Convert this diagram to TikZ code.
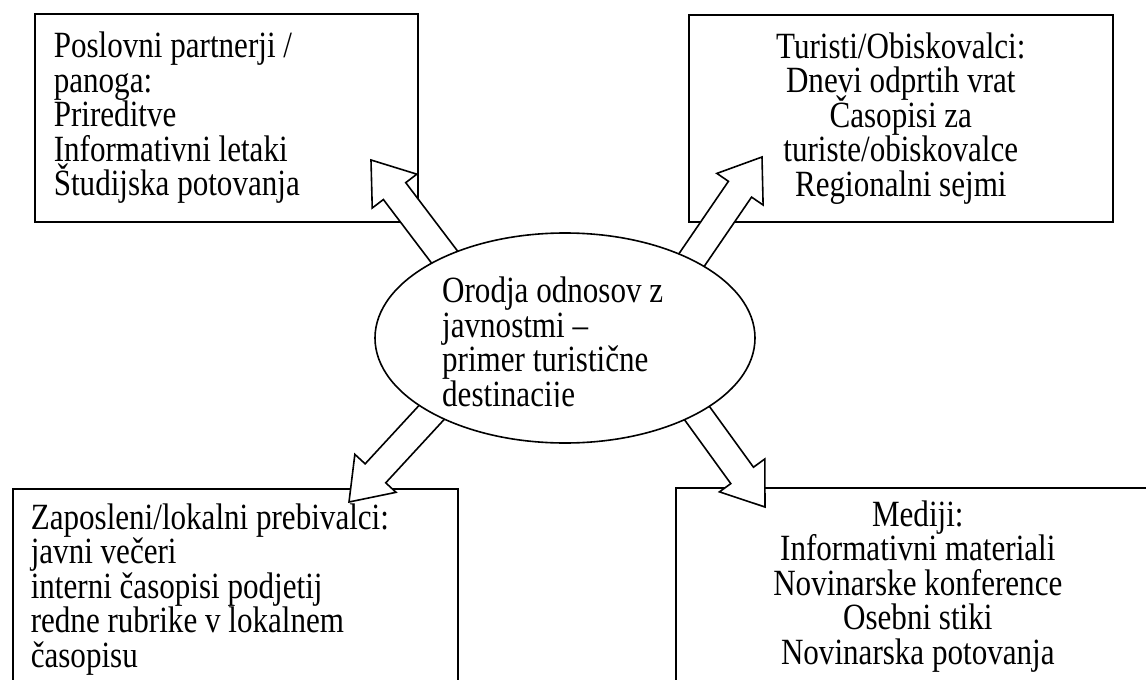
\documentclass[tikz,border=0pt]{standalone}
\usepackage{fontspec}
\setmainfont{Liberation Serif}[FakeStretch=0.84]
\usepackage{tikz}
\usetikzlibrary{arrows.meta,positioning,shapes,calc}
\newcommand{\boxfont}{\fontsize{37}{34.5}\selectfont\lineskiplimit=-100pt\spaceskip=7.75pt\relax}
% block arrow: #1 name, #2 tail, #3 tip
\newcommand{\fatarrow}[3]{%
  \coordinate (#1-h) at ($(#3)!39pt!(#2)$);
  \draw[fatarr] ($(#2)!14pt!90:(#3)$) -- ($(#1-h)!14pt!90:(#3)$) -- ($(#1-h)!28pt!90:(#3)$) -- (#3)
    -- ($(#1-h)!28pt!-90:(#3)$) -- ($(#1-h)!14pt!-90:(#3)$) -- ($(#2)!14pt!-90:(#3)$) -- cycle;
}

\begin{document}
\begin{tikzpicture}[x=1pt,y=-1pt,
        box/.style={draw, line width=1.6pt, font=\boxfont, inner xsep=19pt},
        fatarr/.style={draw, fill=white, line width=1.6pt, line join=miter},
        hub/.style={draw, ellipse, fill=white, line width=1.6pt, minimum width=380pt, minimum height=210pt, inner sep=0pt}]
        \useasboundingbox (0,0) rectangle (1146,680);
        \clip (0,0) rectangle (1146,680);
        % Target groups
        \node[box, align=flush left, text width=345pt, minimum height=208pt, anchor=north west] (partners) at (34,13)
            {Poslovni partnerji /\\ panoga:\\ Prireditve\\ Informativni letaki\\ Študijska potovanja};
        \node[box, align=flush center, text width=386pt, minimum height=207pt, anchor=north west] (tourists) at (688,14)
            {Turisti/Obiskovalci:\\ Dnevi odprtih vrat\\ Časopisi za\\ turiste/obiskovalce\\ Regionalni sejmi};
        \node[box, align=flush left, text width=409pt, inner xsep=18pt, inner ysep=15pt, anchor=north west] (locals) at (12,488)
            {Zaposleni/lokalni prebivalci:\\ javni večeri\\ interni časopisi podjetij\\ redne rubrike v lokalnem\\ časopisu};
        \node[box, align=flush center, text width=444pt, inner xsep=20pt, inner ysep=13pt, anchor=north west] (media) at (675,487)
            {Mediji:\\ Informativni materiali\\ Novinarske konference\\ Osebni stiki\\ Novinarska potovanja};
        % Arrows (tails hidden under the ellipse)
        \coordinate (tl-tail) at (468,288); \coordinate (tl-tip) at (371,160);
        \coordinate (tr-tail) at (667,296); \coordinate (tr-tip) at (762,157);
        \coordinate (bl-tail) at (456,386); \coordinate (bl-tip) at (349,502);
        \coordinate (br-tail) at (673,380); \coordinate (br-tip) at (765,507);
        \fatarrow{tl}{tl-tail}{tl-tip}
        \fatarrow{tr}{tr-tail}{tr-tip}
        \fatarrow{bl}{bl-tail}{bl-tip}
        \fatarrow{br}{br-tail}{br-tip}
        % Centre
        \node[hub] (hub) at (565,338) {};
        \begin{scope}
            \clip (375,233) rectangle (755,406.5);
            \node[font=\boxfont, align=left, inner sep=0pt, anchor=north west] (hubtext) at (442,277)
                {Orodja odnosov z\\ javnostmi –\\ primer turistične\\ destinacije};
        \end{scope}
    \end{tikzpicture}
\end{document}
